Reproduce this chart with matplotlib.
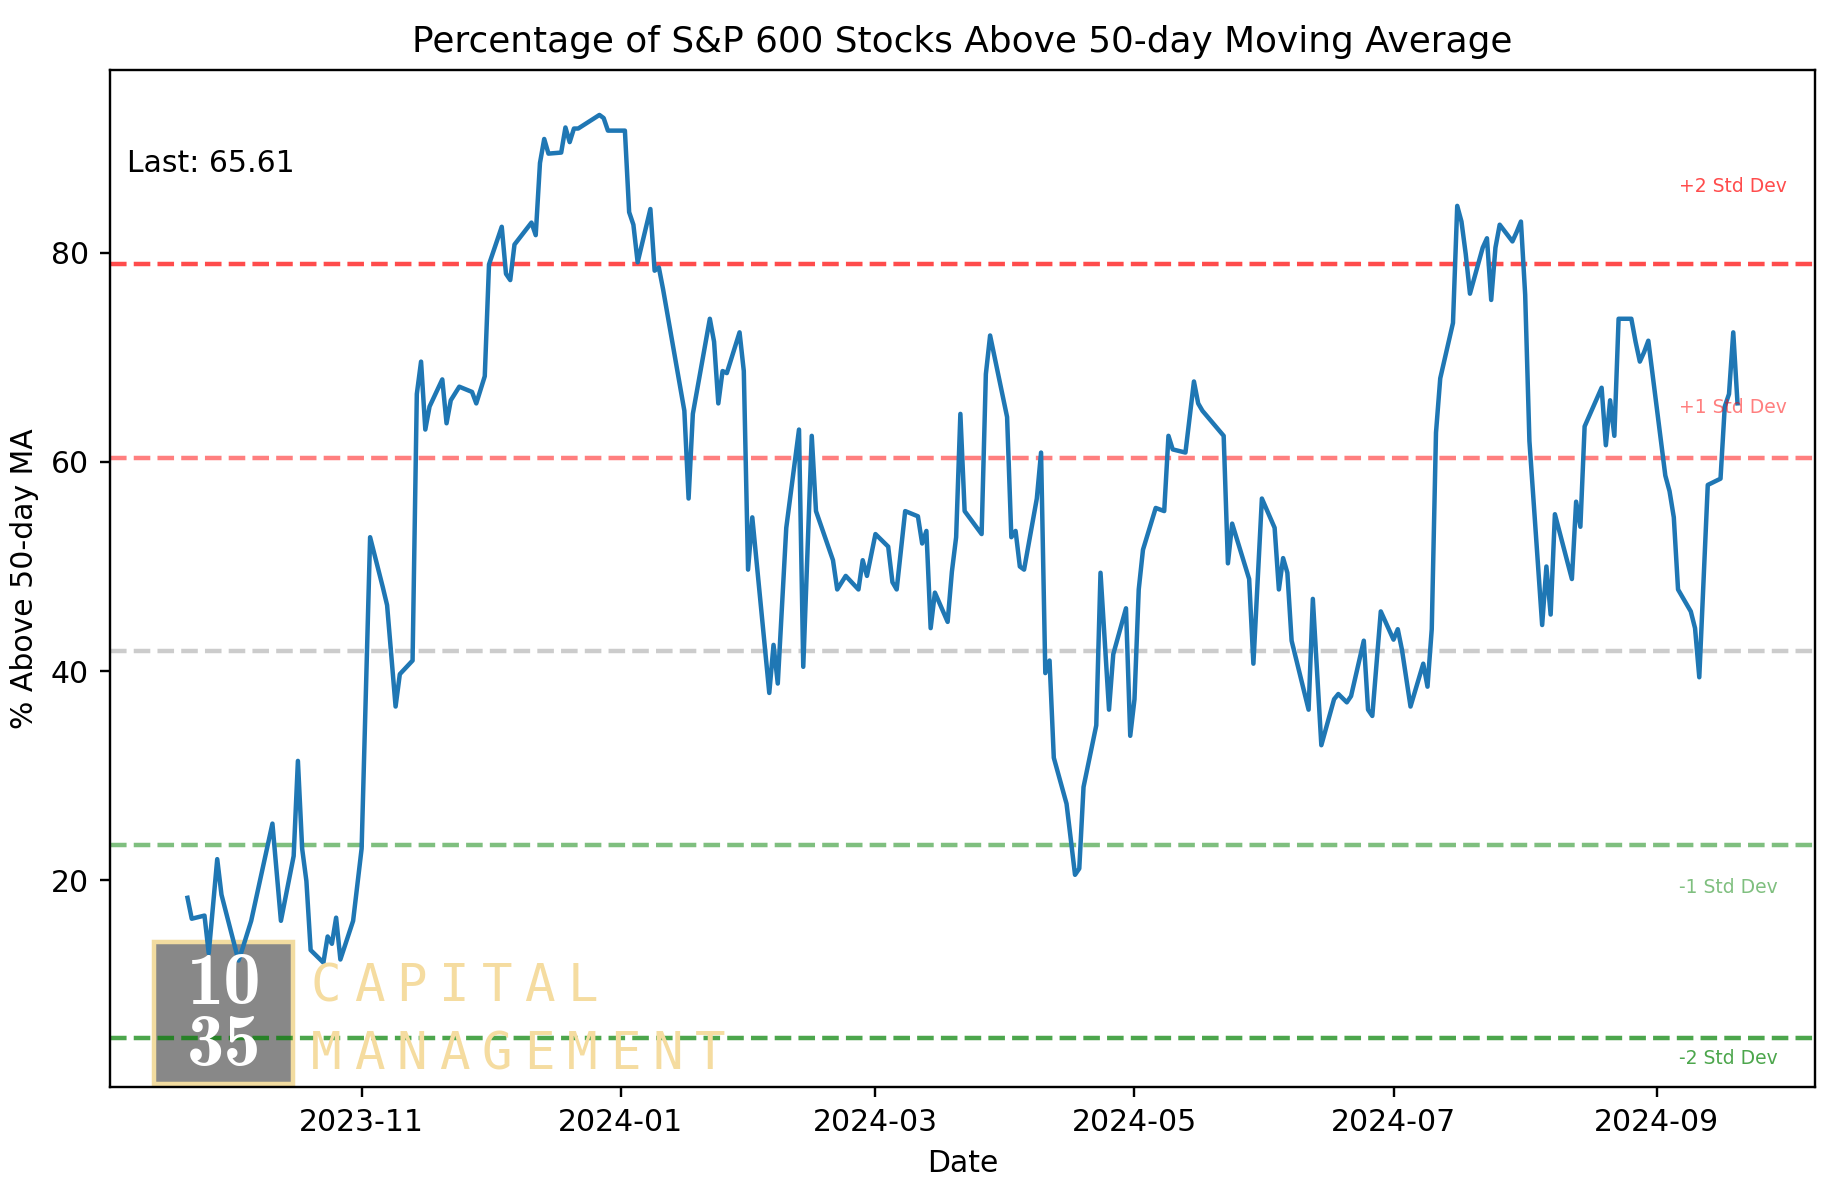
"""
Percentage of S&P 600 stocks above their 50-day moving average,
with mean / standard deviation bands and the 1035 Capital watermark.
"""
import matplotlib
matplotlib.use("Agg")
import matplotlib.pyplot as plt
import matplotlib.dates as mdates
import matplotlib.transforms as mtransforms
import pandas as pd
from matplotlib.patches import Rectangle

# ---------------------------------------------------------------------------
# Data
# ---------------------------------------------------------------------------
DATES = [
    "2023-09-21", "2023-09-22", "2023-09-25", "2023-09-26", "2023-09-28", "2023-09-29",
    "2023-10-03", "2023-10-04", "2023-10-06", "2023-10-11", "2023-10-13", "2023-10-16",
    "2023-10-17", "2023-10-18", "2023-10-19", "2023-10-20", "2023-10-23", "2023-10-24",
    "2023-10-25", "2023-10-26", "2023-10-27", "2023-10-30", "2023-11-01", "2023-11-02",
    "2023-11-03", "2023-11-06", "2023-11-07", "2023-11-09", "2023-11-10", "2023-11-13",
    "2023-11-14", "2023-11-15", "2023-11-16", "2023-11-17", "2023-11-20", "2023-11-21",
    "2023-11-22", "2023-11-24", "2023-11-27", "2023-11-28", "2023-11-30", "2023-12-01",
    "2023-12-04", "2023-12-05", "2023-12-06", "2023-12-07", "2023-12-11", "2023-12-12",
    "2023-12-13", "2023-12-14", "2023-12-15", "2023-12-18", "2023-12-19", "2023-12-20",
    "2023-12-21", "2023-12-22", "2023-12-27", "2023-12-28", "2023-12-29", "2024-01-02",
    "2024-01-03", "2024-01-04", "2024-01-05", "2024-01-08", "2024-01-09", "2024-01-10",
    "2024-01-11", "2024-01-16", "2024-01-17", "2024-01-18", "2024-01-22", "2024-01-23",
    "2024-01-24", "2024-01-25", "2024-01-26", "2024-01-29", "2024-01-30", "2024-01-31",
    "2024-02-01", "2024-02-05", "2024-02-06", "2024-02-07", "2024-02-09", "2024-02-12",
    "2024-02-13", "2024-02-15", "2024-02-16", "2024-02-20", "2024-02-21", "2024-02-23",
    "2024-02-26", "2024-02-27", "2024-02-28", "2024-03-01", "2024-03-04", "2024-03-05",
    "2024-03-06", "2024-03-08", "2024-03-11", "2024-03-12", "2024-03-13", "2024-03-14",
    "2024-03-15", "2024-03-18", "2024-03-19", "2024-03-20", "2024-03-21", "2024-03-22",
    "2024-03-26", "2024-03-27", "2024-03-28", "2024-04-01", "2024-04-02", "2024-04-03",
    "2024-04-04", "2024-04-05", "2024-04-08", "2024-04-09", "2024-04-10", "2024-04-11",
    "2024-04-12", "2024-04-15", "2024-04-17", "2024-04-18", "2024-04-19", "2024-04-22",
    "2024-04-23", "2024-04-24", "2024-04-25", "2024-04-26", "2024-04-29", "2024-04-30",
    "2024-05-01", "2024-05-02", "2024-05-03", "2024-05-06", "2024-05-08", "2024-05-09",
    "2024-05-10", "2024-05-13", "2024-05-15", "2024-05-16", "2024-05-17", "2024-05-22",
    "2024-05-23", "2024-05-24", "2024-05-28", "2024-05-29", "2024-05-31", "2024-06-03",
    "2024-06-04", "2024-06-05", "2024-06-06", "2024-06-07", "2024-06-11", "2024-06-12",
    "2024-06-14", "2024-06-17", "2024-06-18", "2024-06-20", "2024-06-21", "2024-06-24",
    "2024-06-25", "2024-06-26", "2024-06-28", "2024-07-01", "2024-07-02", "2024-07-03",
    "2024-07-05", "2024-07-08", "2024-07-09", "2024-07-10", "2024-07-11", "2024-07-12",
    "2024-07-15", "2024-07-16", "2024-07-17", "2024-07-18", "2024-07-19", "2024-07-22",
    "2024-07-23", "2024-07-24", "2024-07-25", "2024-07-26", "2024-07-29", "2024-07-30",
    "2024-07-31", "2024-08-01", "2024-08-02", "2024-08-05", "2024-08-06", "2024-08-07",
    "2024-08-08", "2024-08-12", "2024-08-13", "2024-08-14", "2024-08-15", "2024-08-19",
    "2024-08-20", "2024-08-21", "2024-08-22", "2024-08-23", "2024-08-26", "2024-08-27",
    "2024-08-28", "2024-08-29", "2024-08-30", "2024-09-03", "2024-09-04", "2024-09-05",
    "2024-09-06", "2024-09-09", "2024-09-10", "2024-09-11", "2024-09-12", "2024-09-13",
    "2024-09-16", "2024-09-17", "2024-09-18", "2024-09-19", "2024-09-20",
]
PCT_ABOVE = [
    18.3, 16.3, 16.6, 13.0, 22.0, 18.6,
    12.3, 13.5, 16.1, 25.4, 16.1, 22.3,
    31.4, 23.0, 19.9, 13.3, 12.1, 14.6,
    13.9, 16.4, 12.4, 16.1, 23.0, 38.0,
    52.8, 48.0, 46.3, 36.6, 39.7, 41.0,
    66.5, 69.6, 63.1, 65.3, 67.9, 63.7,
    65.9, 67.2, 66.7, 65.6, 68.2, 78.9,
    82.5, 78.0, 77.4, 80.8, 82.9, 81.7,
    88.6, 90.9, 89.5, 89.6, 92.0, 90.6,
    91.9, 91.9, 93.2, 92.9, 91.7, 91.7,
    83.9, 82.7, 79.1, 84.2, 78.3, 78.6,
    76.5, 64.9, 56.5, 64.6, 73.7, 71.5,
    65.6, 68.7, 68.5, 72.4, 68.7, 49.7,
    54.7, 37.9, 42.5, 38.8, 53.7, 63.1,
    40.4, 62.5, 55.3, 50.6, 47.8, 49.1,
    47.8, 50.6, 49.1, 53.1, 51.9, 48.5,
    47.8, 55.3, 54.8, 52.2, 53.4, 44.1,
    47.5, 44.7, 49.5, 52.8, 64.6, 55.3,
    53.1, 68.4, 72.1, 64.3, 52.8, 53.4,
    50.0, 49.7, 56.5, 60.9, 39.8, 41.0,
    31.7, 27.3, 20.5, 21.1, 28.9, 34.8,
    49.4, 42.9, 36.3, 41.6, 46.0, 33.8,
    37.3, 47.8, 51.6, 55.6, 55.3, 62.5,
    61.2, 60.9, 67.7, 65.6, 64.9, 62.5,
    50.3, 54.1, 48.8, 40.7, 56.5, 53.7,
    47.8, 50.8, 49.4, 42.9, 36.3, 46.9,
    32.9, 37.3, 37.8, 37.0, 37.6, 42.9,
    36.3, 35.7, 45.7, 43.0, 44.0, 42.0,
    36.6, 40.7, 38.5, 44.0, 62.8, 68.0,
    73.3, 84.5, 83.0, 79.9, 76.1, 80.5,
    81.4, 75.5, 80.5, 82.7, 81.1, 82.0,
    83.0, 76.0, 62.0, 44.4, 50.0, 45.4,
    55.0, 48.8, 56.2, 53.8, 63.4, 67.1,
    61.6, 65.9, 62.5, 73.7, 73.7, 71.5,
    69.6, 70.5, 71.6, 58.7, 57.2, 54.7,
    47.8, 45.7, 44.1, 39.4, 48.5, 57.8,
    58.4, 65.3, 66.5, 72.4, 65.61,
]
MEAN = 41.9          # long-run average of the series
STD = 18.5           # standard deviation of the series
BAND_K = [2, 1, 0, -1, -2]
BAND_LABELS = ["+2 Std Dev", "+1 Std Dev", None, "-1 Std Dev", "-2 Std Dev"]

# ---------------------------------------------------------------------------
# Figure
# ---------------------------------------------------------------------------
W, H, DPI = 1833, 1189, 215
fig = plt.figure(figsize=(W / DPI, H / DPI), dpi=DPI)
ax = fig.add_axes([110 / W, 1 - 1087 / H, 1705 / W, 1017 / H])

dates = pd.to_datetime(DATES)
ax.plot(dates, PCT_ABOVE, color="#1f77b4", lw=1.5, zorder=3)

band_style = {2: ("red", 0.7), 1: ("red", 0.5), 0: ("gray", 0.4),
              -1: ("green", 0.5), -2: ("green", 0.7)}
label_y = {2: 86.4, 1: 65.2, -1: 19.3, -2: 2.9}
trans = mtransforms.blended_transform_factory(ax.transAxes, ax.transData)
for k, lab in zip(BAND_K, BAND_LABELS):
    col, a = band_style[k]
    ax.axhline(MEAN + k * STD, color=col, ls="--", lw=1.5, alpha=a, zorder=2)
    if lab:
        ax.text(0.92, label_y[k], lab, color=col, alpha=a, fontsize=6.3,
                va="center", ha="left", transform=trans)

ax.text(0.01, 0.9, f"Last: {PCT_ABOVE[-1]:.2f}", transform=ax.transAxes, fontsize=10)

ax.set_ylim(0.2, 97.5)
ax.set_yticks([20, 40, 60, 80])
ax.xaxis.set_major_locator(mdates.MonthLocator(bymonth=[1, 3, 5, 7, 9, 11]))
ax.xaxis.set_major_formatter(mdates.DateFormatter("%Y-%m"))
ax.set_title("Percentage of S&P 600 Stocks Above 50-day Moving Average", fontsize=12)
ax.set_xlabel("Date")
ax.set_ylabel("% Above 50-day MA")

# ── watermark ───────────────────────────────────────────────────────────────
box = Rectangle((154 / W, 1 - 1084 / H), 139 / W, 142 / H, transform=fig.transFigure,
                facecolor="#888888", edgecolor="#f2dca0", lw=1.5, clip_on=False, zorder=1)
ax.add_patch(box)
for txt, py in (("10", 985), ("35", 1047)):
    ax.text(224 / W, 1 - py / H, txt, transform=fig.transFigure, color="white",
            family="cmb10", fontsize=25, ha="center", va="center", zorder=4)
gold = "#f5dca0"
for word, base in (("CAPITAL", 1001), ("MANAGEMENT", 1069)):
    for i, ch in enumerate(word):
        ax.text((311 + i * 42.7) / W, 1 - base / H, ch, transform=fig.transFigure,
                color=gold, family="DejaVu Sans Mono", fontsize=17,
                ha="left", va="baseline", zorder=4)

fig.savefig("out.png", dpi=DPI)
